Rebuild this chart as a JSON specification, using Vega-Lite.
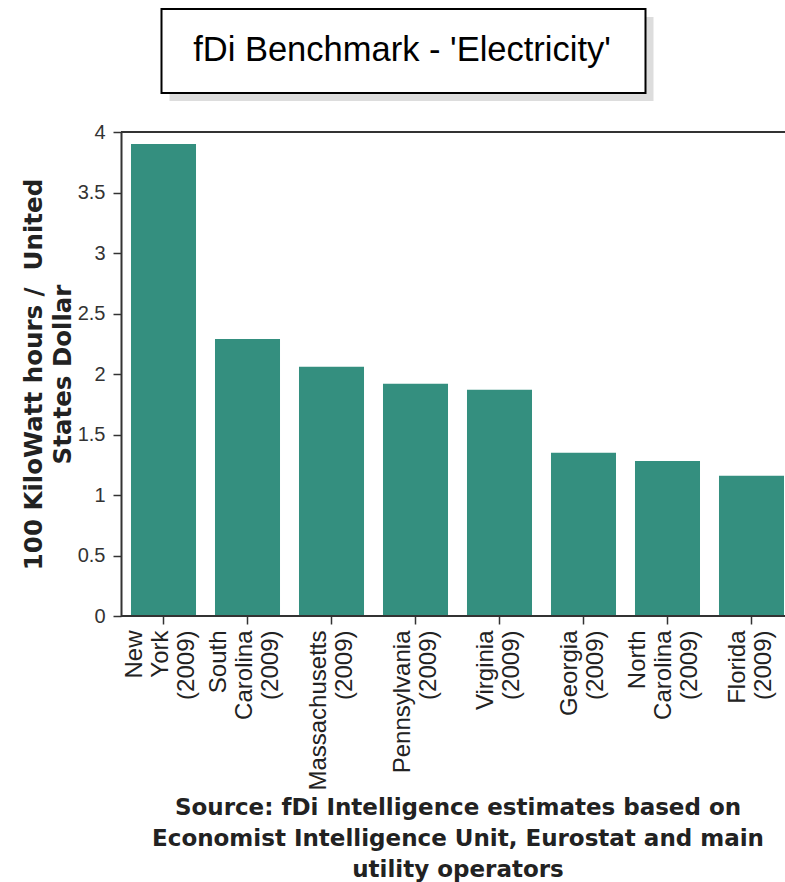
{
  "$schema": "https://vega.github.io/schema/vega-lite/v6.json",
  "padding": {"left": 21, "top": 8, "right": 0, "bottom": 0},
  "background": "white",
  "config": {"view": {"stroke": null}},
  "center": true,
  "spacing": 21,
  "vconcat": [
    {
      "width": 592,
      "height": 84,
      "data": {"values": [{"title": "fDi Benchmark - 'Electricity'"}]},
      "layer": [
        {
          "mark": {"type": "rect", "fill": "transparent", "stroke": "#dddddd", "strokeWidth": 16, "xOffset": -108, "yOffset": 8, "strokeDash": [552, 568], "strokeDashOffset": -484},
          "encoding": {}
        },
        {
          "mark": {"type": "rect", "fill": "white", "stroke": "black", "strokeWidth": 2, "xOffset": -108},
          "encoding": {}
        },
        {
          "mark": {"type": "text", "font": "Liberation Sans", "fontSize": 34.5, "color": "black", "xOffset": -55.5},
          "encoding": {"text": {"field": "title"}}
        }
      ]
    },
    {
      "width": 664,
      "height": 484,
      "data": {"values": [
        {"state": "New York (2009)", "value": 3.9},
        {"state": "South Carolina (2009)", "value": 2.29},
        {"state": "Massachusetts (2009)", "value": 2.06},
        {"state": "Pennsylvania (2009)", "value": 1.92},
        {"state": "Virginia (2009)", "value": 1.87},
        {"state": "Georgia (2009)", "value": 1.35},
        {"state": "North Carolina (2009)", "value": 1.28},
        {"state": "Florida (2009)", "value": 1.16}
      ]},
      "layer": [
        {
          "mark": {"type": "bar", "color": "#348f7f"},
          "encoding": {
            "x": {
              "field": "state", "type": "nominal", "sort": null,
              "scale": {"range": [0, 673], "paddingInner": 0.226, "paddingOuter": 0.119},
              "axis": {
                "title": ["Source: fDi Intelligence estimates based on", "Economist Intelligence Unit, Eurostat and main", "utility operators"],
                "labelExpr": "split(datum.label, ' ')",
                "labelAngle": -90,
                "labelAlign": "right",
                "labelBaseline": "middle",
                "labelOffset": {"condition": {"test": "length(split(datum.value, ' ')) > 2", "value": -29}, "value": -13},
                "labelFont": "Liberation Sans",
                "labelFontSize": 24,
                "labelLineHeight": 26,
                "labelColor": "#222",
                "labelPadding": 6,
                "labelOverlap": false,
                "domain": false,
                "tickSize": 8,
                "tickColor": "#333",
                "tickWidth": 1.5,
                "titleFont": "DejaVu Sans",
                "titleFontWeight": "bold",
                "titleFontSize": 23,
                "titleLineHeight": 31,
                "titleColor": "#222",
                "titlePadding": 6
              }
            },
            "y": {
              "field": "value", "type": "quantitative",
              "scale": {"domain": [0, 4], "nice": false},
              "axis": {
                "title": ["100 KiloWatt hours /\u00a0\u00a0United", "States Dollar"],
                "values": [0, 0.5, 1, 1.5, 2, 2.5, 3, 3.5, 4],
                "format": "~g",
                "grid": false,
                "labelFont": "Liberation Sans",
                "labelFontSize": 20,
                "labelColor": "#333",
                "labelPadding": 8,
                "tickSize": 8,
                "tickColor": "#333",
                "tickWidth": 1.5,
                "domainColor": "#333",
                "domainWidth": 2,
                "titleFont": "DejaVu Sans",
                "titleFontWeight": "bold",
                "titleFontSize": 24.5,
                "titleLineHeight": 29,
                "titleColor": "#222",
                "titlePadding": 2
              }
            }
          }
        },
        {"mark": {"type": "rule", "color": "#333", "strokeWidth": 2}, "encoding": {"y": {"datum": 4}}},
        {"mark": {"type": "rule", "color": "#333", "strokeWidth": 2}, "encoding": {"y": {"datum": 0}}}
      ]
    }
  ]
}
